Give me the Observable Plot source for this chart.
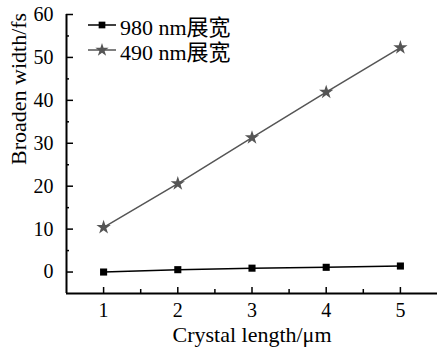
<!DOCTYPE html>
<html><head><meta charset="utf-8">
<script src="https://cdn.jsdelivr.net/npm/d3@7"></script>
<script src="https://cdn.jsdelivr.net/npm/@observablehq/plot@0.6"></script>
<style>
body{margin:0;background:#fff;overflow:hidden;}
#wrap{position:relative;width:437px;height:351px;overflow:hidden;font-family:"Liberation Serif","Times New Roman","Noto Sans CJK SC",serif;}
#wrap svg{display:block;}
#legend{position:absolute;left:87px;top:12px;font-size:22px;color:#000;}
#legend div{display:flex;align-items:center;height:25px;}
#legend svg{margin-right:3px;}
</style></head><body><div id="wrap"><div id="legend"></div></div>
<script>
const lengths = [1, 2, 3, 4, 5];
const width980 = [0.0, 0.55, 0.9, 1.1, 1.4];
const width490 = [10.4, 20.6, 31.3, 41.9, 52.3];
const seriesNames = ["980 nm展宽", "490 nm展宽"];
const xTicks = [1, 2, 3, 4, 5];
const xMinorTicks = [1.5, 2.5, 3.5, 4.5];
const yTicks = [0, 10, 20, 30, 40, 50, 60];
const yMinorTicks = [5, 15, 25, 35, 45, 55];
const xDomain = [0.5, 5.5];
const yDomain = [-5, 60];
const xLabel = "Crystal length/\u03bcm";
const yLabel = "Broaden width/fs";

const d980 = lengths.map((x, i) => ({x, y: width980[i]}));
const d490 = lengths.map((x, i) => ({x, y: width490[i]}));
const col980 = "#000", col490 = "#555";

const tickStyle = {stroke: "#000", strokeWidth: 1.5, strokeOpacity: 1};
const chart = Plot.plot({
  width: 437, height: 351,
  marginLeft: 66, marginRight: 0, marginTop: 14, marginBottom: 58,
  style: {fontFamily: '"Liberation Serif","Times New Roman",serif', fontSize: "20px", background: "#fff", color: "#000"},
  x: {domain: xDomain},
  y: {domain: yDomain},
  marks: [
    // inward ticks: outward axis ticks shifted back over the axis line
    Plot.axisY(yMinorTicks, {tickSize: 3, dx: 3, tickFormat: () => "", label: null, ...tickStyle}),
    Plot.axisY(yTicks, {tickSize: 7, dx: 7, tickPadding: 13, label: null, fontSize: 20, ...tickStyle}),
    Plot.axisX(xMinorTicks, {tickSize: 4, dy: -4, tickFormat: () => "", label: null, ...tickStyle}),
    Plot.axisX(xTicks, {tickSize: 6, dy: -6, tickPadding: 9, label: null, fontSize: 20, ...tickStyle}),
    // axis lines
    Plot.ruleX([xDomain[0]], {stroke: "#000", strokeWidth: 2}),
    Plot.ruleY([yDomain[0]], {stroke: "#000", strokeWidth: 2}),
    // axis titles
    Plot.text([yLabel], {text: d => d, frameAnchor: "left", rotate: -90, dx: -48, dy: 11, fontSize: 22}),
    Plot.text([xLabel], {text: d => d, frameAnchor: "bottom", dy: 48, fontSize: 22}),
    // data
    Plot.line(d980, {x: "x", y: "y", stroke: col980, strokeWidth: 1.6}),
    Plot.dot(d980, {x: "x", y: "y", symbol: "square", fill: col980, r: 4}),
    Plot.line(d490, {x: "x", y: "y", stroke: col490, strokeWidth: 1.5}),
    Plot.dot(d490, {x: "x", y: "y", symbol: "star", fill: col490, r: 4.5})
  ]
});
document.getElementById("wrap").appendChild(chart);

const leg = d3.select("#legend");
const series = [{name: seriesNames[0], color: col980, sym: d3.symbolSquare, size: 45},
                {name: seriesNames[1], color: col490, sym: d3.symbolStar, size: 55}];
series.forEach(s => {
  const row = leg.append("div");
  const svg = row.append("svg").attr("width", 30).attr("height", 20);
  svg.append("line").attr("x1", 1).attr("x2", 29).attr("y1", 10).attr("y2", 10).attr("stroke", s.color).attr("stroke-width", 1.5);
  svg.append("path").attr("d", d3.symbol(s.sym, s.size)()).attr("transform", "translate(15,10)").attr("fill", s.color);
  row.append("span").text(s.name);
});
</script></body></html>
